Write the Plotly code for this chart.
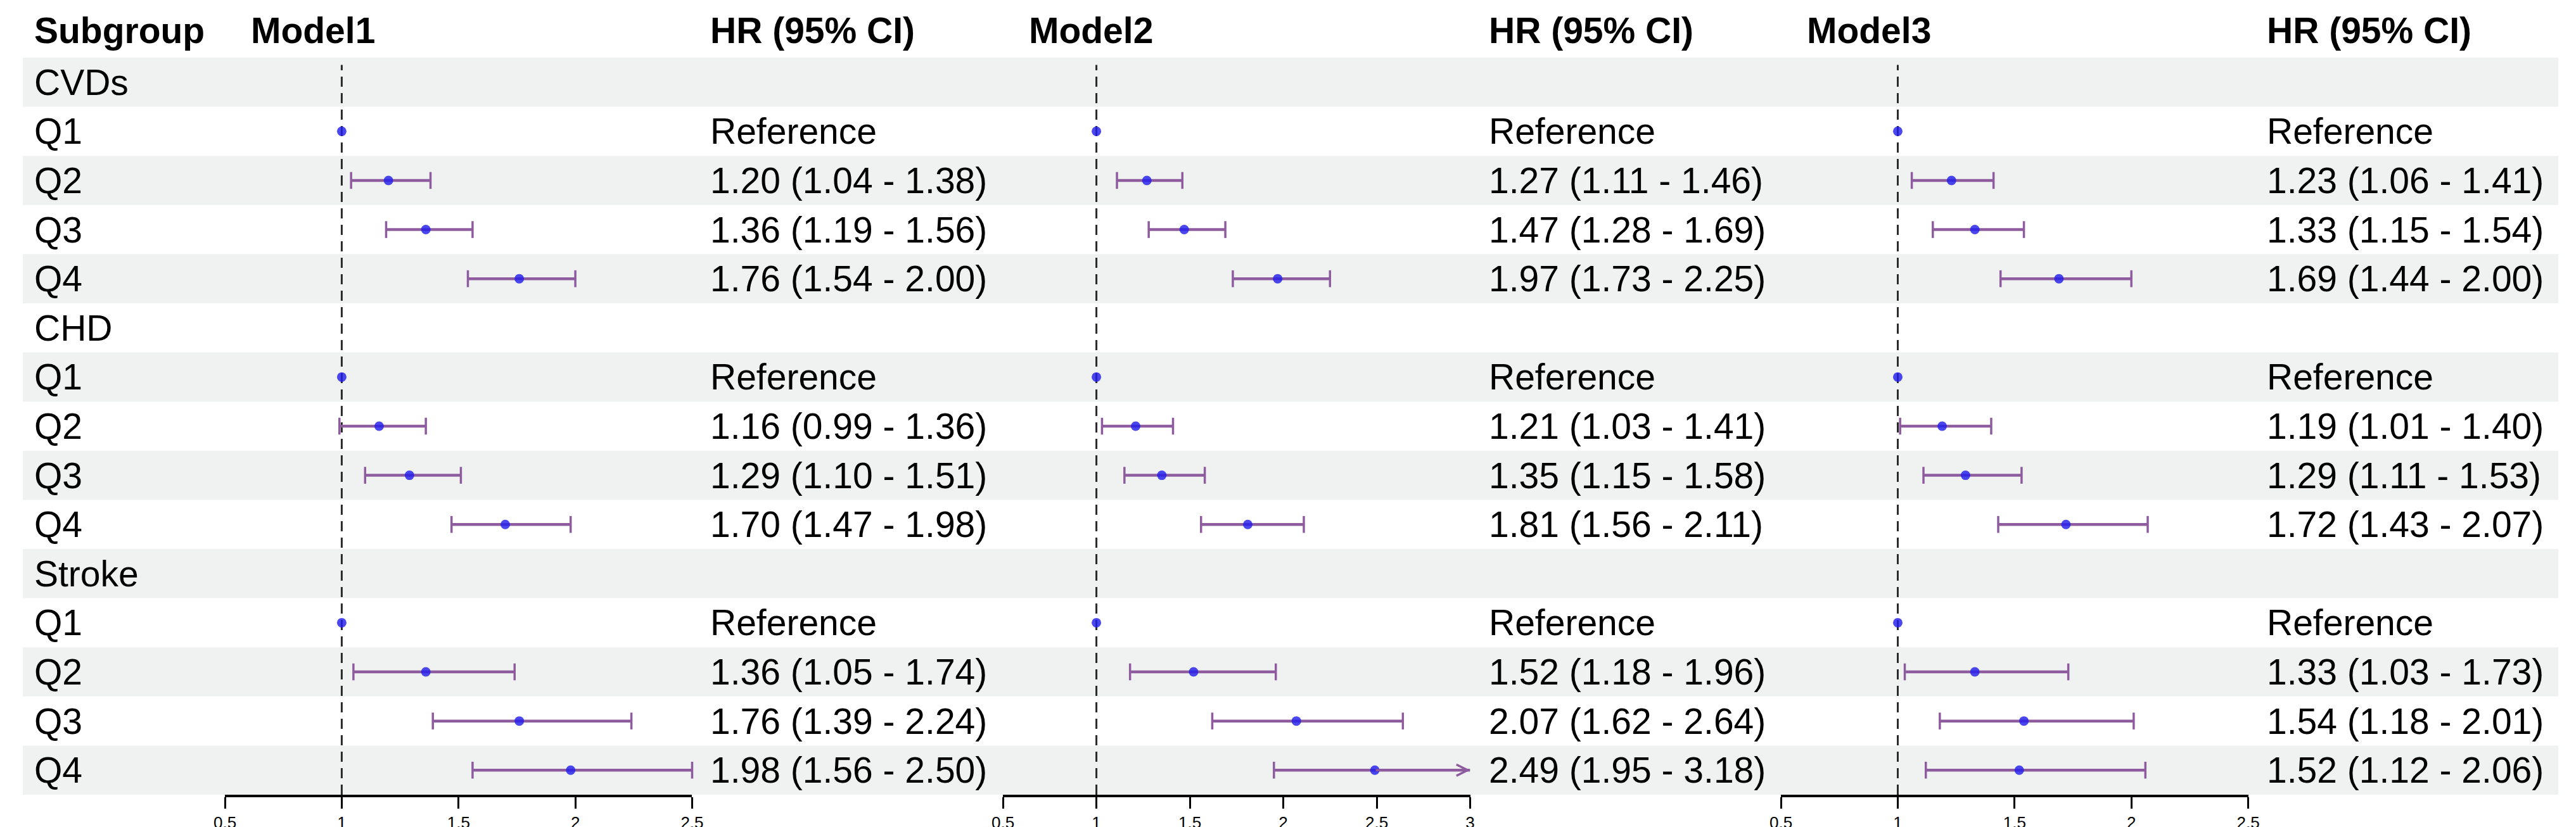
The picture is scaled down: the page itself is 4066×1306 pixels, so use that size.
import plotly.graph_objects as go

# rows of the table (top to bottom)
row_labels = ["CVDs", "Q1", "Q2", "Q3", "Q4",
              "CHD", "Q1", "Q2", "Q3", "Q4",
              "Stroke", "Q1", "Q2", "Q3", "Q4"]
outcomes = ["CVDs", "CHD", "Stroke"]
models = ["Model1", "Model2", "Model3"]

# HR, lower and upper CI for Q2, Q3, Q4 of CVDs, CHD, Stroke (Q1 = reference)
m1_hr = [1.20, 1.36, 1.76, 1.16, 1.29, 1.70, 1.36, 1.76, 1.98]
m1_lo = [1.04, 1.19, 1.54, 0.99, 1.10, 1.47, 1.05, 1.39, 1.56]
m1_hi = [1.38, 1.56, 2.00, 1.36, 1.51, 1.98, 1.74, 2.24, 2.50]

m2_hr = [1.27, 1.47, 1.97, 1.21, 1.35, 1.81, 1.52, 2.07, 2.49]
m2_lo = [1.11, 1.28, 1.73, 1.03, 1.15, 1.56, 1.18, 1.62, 1.95]
m2_hi = [1.46, 1.69, 2.25, 1.41, 1.58, 2.11, 1.96, 2.64, 3.18]

m3_hr = [1.23, 1.33, 1.69, 1.19, 1.29, 1.72, 1.33, 1.54, 1.52]
m3_lo = [1.06, 1.15, 1.44, 1.01, 1.11, 1.43, 1.03, 1.18, 1.12]
m3_hi = [1.41, 1.54, 2.00, 1.40, 1.53, 2.07, 1.73, 2.01, 2.06]

ref_value = 1
x_ranges = [(0.5, 2.5), (0.5, 3), (0.5, 2.5)]
tick_vals = [0.5, 1, 1.5, 2, 2.5, 3]

model_data = [(m1_hr, m1_lo, m1_hi), (m2_hr, m2_lo, m2_hi), (m3_hr, m3_lo, m3_hi)]

# page geometry (pixels)
W, H = 4066, 1306
row_top, row_bot = 83, 1248
panel_left = [332, 1571, 2810]
panel_w = 744

FONT = "Liberation Sans, Arial, sans-serif"
PURPLE = "#8E5C9E"
BLUE = "rgba(35,30,235,0.82)"
BAND = "#EFF2F1"


def label(**kw):
    # left aligned text annotation
    d = dict(showarrow=False, xanchor="left", yanchor="middle", align="left",
             borderpad=0, font=dict(family=FONT, size=57, color="black"))
    d.update(kw)
    return d


fig = go.Figure()
shapes = []
annotations = []

# zebra bands
for i in range(len(row_labels)):
    if i % 2 == 0:
        shapes.append(dict(type="rect", xref="paper", yref="y",
                           x0=10 / W, x1=4048 / W, y0=i - 0.5, y1=i + 0.5,
                           fillcolor=BAND, line=dict(width=0), layer="below"))

# subgroup labels
for i, lab in enumerate(row_labels):
    annotations.append(label(xref="paper", yref="y", x=27 / W, y=i, text=lab))

annotations.append(label(xref="paper", yref="paper", x=27 / W, y=1 - 40 / H,
                         text="<b>Subgroup</b>"))

for m, (hr, lo, hi) in enumerate(model_data):
    xa = "x" if m == 0 else "x%d" % (m + 1)
    xmin, xmax = x_ranges[m]

    rows, pts, bx, by, cx, cy = [], [], [], [], [], []
    for k in range(3):
        base = k * 5
        # Q1 reference
        rows.append(base + 1)
        pts.append(ref_value)
        annotations.append(label(xref=xa, yref="y", x=xmax, y=base + 1, xshift=28,
                                 text="Reference"))
        for q in range(3):
            j = k * 3 + q
            r = base + 2 + q
            rows.append(r)
            pts.append(hr[j])
            lo_c = max(lo[j], xmin)
            hi_c = min(hi[j], xmax)
            bx += [lo_c, hi_c, None]
            by += [r, r, None]
            if lo[j] >= xmin:
                cx.append(lo[j]); cy.append(r)
            if hi[j] <= xmax:
                cx.append(hi[j]); cy.append(r)
            else:
                annotations.append(dict(xref=xa, yref="y", axref=xa, ayref="y",
                                        x=xmax, y=r, ax=hr[j], ay=r, text="",
                                        showarrow=True, arrowhead=5, arrowsize=1,
                                        arrowwidth=3.5, arrowcolor=PURPLE))
            annotations.append(label(xref=xa, yref="y", x=xmax, y=r, xshift=28,
                                     text="%.2f (%.2f - %.2f)" % (hr[j], lo[j], hi[j])))

    fig.add_trace(go.Scatter(x=bx, y=by, mode="lines", xaxis=xa, yaxis="y",
                             line=dict(color=PURPLE, width=4.5), hoverinfo="skip",
                             showlegend=False))
    fig.add_trace(go.Scatter(x=cx, y=cy, mode="markers", xaxis=xa, yaxis="y",
                             marker=dict(symbol="line-ns", size=19,
                                         line=dict(color=PURPLE, width=3.5)),
                             cliponaxis=False, hoverinfo="skip", showlegend=False))
    fig.add_trace(go.Scatter(x=pts, y=rows, mode="markers", xaxis=xa, yaxis="y",
                             marker=dict(size=15, color=BLUE, line=dict(width=0)),
                             cliponaxis=False, showlegend=False))

    # reference line at HR = 1
    shapes.append(dict(type="line", xref=xa, yref="y domain", x0=ref_value, x1=ref_value,
                       y0=0, y1=0.99, line=dict(color="#2a2a2a", width=3, dash="16px,10px"),
                       layer="below"))

    # column headers
    annotations.append(label(xref=xa + " domain", yref="paper", x=0, y=1 - 40 / H, xshift=40,
                             text="<b>%s</b>" % models[m]))
    annotations.append(label(xref=xa + " domain", yref="paper", x=1, y=1 - 40 / H, xshift=28,
                             text="<b>HR (95% CI)</b>"))

axis_style = dict(showline=True, linecolor="black", linewidth=3.5, ticks="outside",
                  ticklen=18, tickwidth=3, tickcolor="black", showgrid=False,
                  zeroline=False, anchor="y", fixedrange=True,
                  tickfont=dict(family=FONT, size=26, color="black"))

layout = dict(
    width=W, height=H,
    margin=dict(l=0, r=0, t=0, b=0),
    paper_bgcolor="white", plot_bgcolor="rgba(0,0,0,0)",
    showlegend=False,
    yaxis=dict(domain=[1 - row_bot / H, 1 - row_top / H], range=[14.5, -0.5],
               visible=False, fixedrange=True, anchor="x"),
    shapes=shapes, annotations=annotations,
)
for m in range(3):
    key = "xaxis" if m == 0 else "xaxis%d" % (m + 1)
    xmin, xmax = x_ranges[m]
    tv = [t for t in tick_vals if xmin <= t <= xmax]
    layout[key] = dict(axis_style,
                       domain=[panel_left[m] / W, (panel_left[m] + panel_w) / W],
                       range=[xmin, xmax], tickvals=tv,
                       ticktext=[("%g" % t) for t in tv])

fig.update_layout(**layout)
fig.write_html("out.html")
